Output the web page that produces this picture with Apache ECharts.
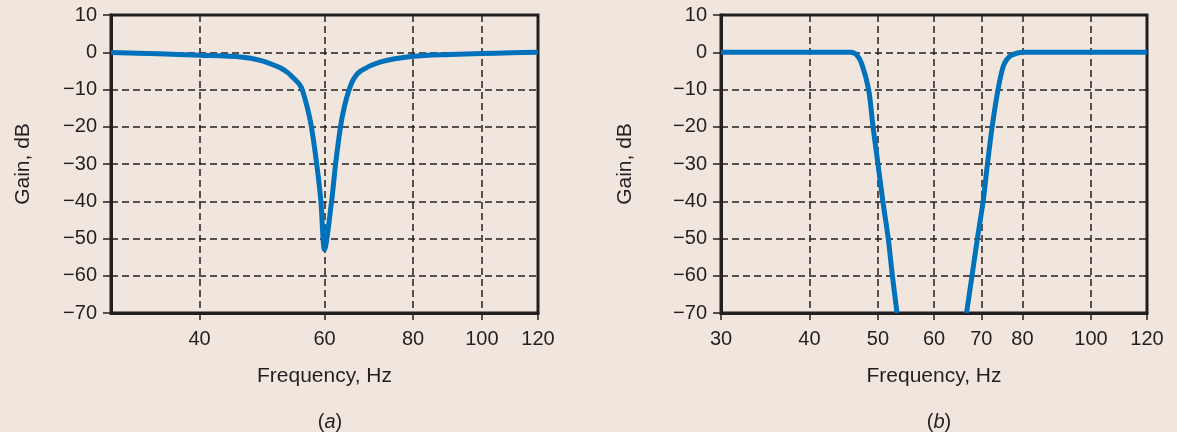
<!DOCTYPE html>
<html>
<head>
<meta charset="utf-8">
<script src="https://cdn.jsdelivr.net/npm/echarts@6/dist/echarts.min.js"></script>
<style>
html,body{margin:0;padding:0;background:#f0e6de;}
#c{width:1177px;height:432px;}
</style>
</head>
<body>
<div id="c"></div>
<script>
// ---- data ----
const notchFreq = [30, 35, 40, 45.7, 48.7, 52, 53.2, 54.3, 55.3, 55.8, 56.7, 57.5, 58.5, 59.3, 60, 61.4, 62.2, 63.2, 64.0, 65, 66.0, 67.5, 72, 80, 90, 100, 110, 120];
const notchGain = [-0.1, -0.4, -0.8, -1.3, -2.2, -4.2, -5.4, -7.0, -8.6, -10, -14.6, -20, -30, -40, -53, -40, -30, -20, -14.6, -10, -7.1, -5.0, -2.6, -1.1, -0.6, -0.35, -0.15, 0];

const bandLowFreq = [30, 40, 45.7, 46.6, 47.4, 48.5, 49.2, 50, 50.8, 51.7, 52.4, 53.2];
const bandLowGain = [0, 0, 0, -0.6, -3, -10, -20, -30, -40, -50, -60, -70];
const bandHighFreq = [66.7, 67.9, 69.1, 70.4, 71.4, 72.5, 73.9, 75.1, 76, 77.2, 80, 100, 120];
const bandHighGain = [-70, -60, -50, -40, -30, -20, -10, -4, -2, -0.8, 0, 0, 0];

const ticksA = [40, 60, 80, 100, 120];
const ticksB = [30, 40, 50, 60, 70, 80, 100, 120];
const gainMin = -70, gainMax = 10, gainStep = 10;
const freqMin = 30, freqMax = 120;

const xTitle = 'Frequency, Hz';
const yTitle = 'Gain, dB';
// --------------------------------------

const pair = (xs, ys) => xs.map((x, i) => [x, ys[i]]);
const ink = '#231f20';
const blue = '#0071bb';
const font = 'Liberation Sans, Arial, sans-serif';

function xAxis(gridIndex, ticks) {
  return {
    type: 'log', logBase: 10, gridIndex, min: freqMin, max: freqMax,
    name: xTitle, nameLocation: 'middle', nameGap: 53,
    nameTextStyle: { color: ink, fontSize: 21, fontFamily: font },
    axisLine: { show: true, onZero: false, lineStyle: { color: ink, width: 3 } },
    axisTick: { show: true, customValues: ticks, length: 7, lineStyle: { color: ink, width: 1.5 } },
    axisLabel: { customValues: ticks, color: ink, fontSize: 20, fontFamily: font, margin: 16,
      formatter: v => String(Math.round(v)) },
    splitLine: { show: true, lineStyle: { color: ink, width: 1.5, type: [7, 4] } },
    minorTick: { show: false }, minorSplitLine: { show: false }
  };
}
function yAxis(gridIndex, nameGap) {
  return {
    type: 'value', gridIndex, min: gainMin, max: gainMax, interval: gainStep,
    name: yTitle, nameLocation: 'middle', nameGap,
    nameTextStyle: { color: ink, fontSize: 21, fontFamily: font },
    axisLine: { show: true, onZero: false, lineStyle: { color: ink, width: 3 } },
    axisTick: { show: true, length: 8, lineStyle: { color: ink, width: 1.5 } },
    axisLabel: { color: ink, fontSize: 20, fontFamily: font, margin: 14,
      formatter: v => (v < 0 ? '\u2212' + Math.abs(v) : String(v)) },
    splitLine: { show: true, lineStyle: { color: ink, width: 1.5, type: [7, 4] } }
  };
}
function line(xi, yi, data) {
  return {
    type: 'line', xAxisIndex: xi, yAxisIndex: yi, data,
    showSymbol: false, smooth: 0.3, clip: true,
    lineStyle: { color: blue, width: 5, cap: 'butt', join: 'round' },
    z: 3
  };
}
const rich = {
  p: { color: ink, fontSize: 20, fontFamily: font, fontWeight: 'normal' },
  i: { color: ink, fontSize: 20, fontFamily: font, fontWeight: 'normal', fontStyle: 'italic' }
};

const chart = echarts.init(document.getElementById('c'), null, { renderer: 'canvas' });
chart.setOption({
  backgroundColor: '#f0e6de',
  animation: false,
  grid: [
    { left: 111, top: 15, width: 427, height: 298, show: true, borderColor: ink, borderWidth: 3, backgroundColor: 'transparent' },
    { left: 721, top: 15, width: 426, height: 298, show: true, borderColor: ink, borderWidth: 3, backgroundColor: 'transparent' }
  ],
  xAxis: [xAxis(0, ticksA), xAxis(1, ticksB)],
  yAxis: [yAxis(0, 77), yAxis(1, 85)],
  title: [
    { text: '{p|(}{i|a}{p|)}', left: 325, top: 407, textAlign: 'center', textStyle: { fontWeight: 'normal', rich } },
    { text: '{p|(}{i|b}{p|)}', left: 934, top: 407, textAlign: 'center', textStyle: { fontWeight: 'normal', rich } }
  ],
  series: [
    line(0, 0, pair(notchFreq, notchGain)),
    line(1, 1, pair(bandLowFreq, bandLowGain)),
    line(1, 1, pair(bandHighFreq, bandHighGain))
  ]
});
</script>
</body>
</html>
